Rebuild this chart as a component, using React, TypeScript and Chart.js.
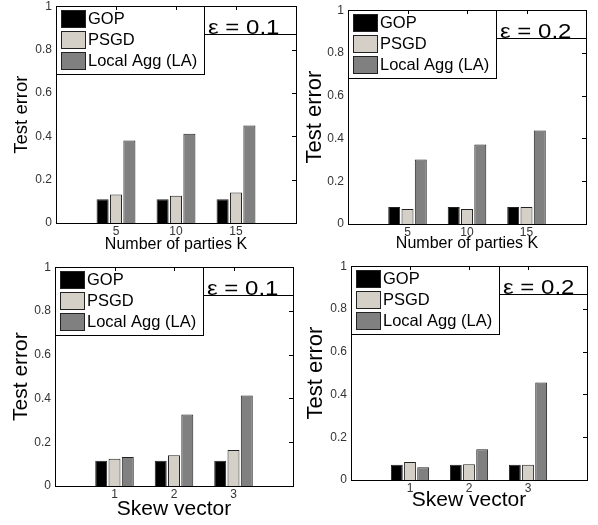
import React, { useEffect, useRef } from 'react';
import { Chart, registerables } from 'chart.js';

Chart.register(...registerables);

// ---------- data ----------
const seriesNames = ['GOP', 'PSGD', 'Local Agg (LA)'];
const seriesColors = ['#000000', '#d4d0c8', '#808080'];
const partiesLabels = ['5', '10', '15'];
const skewLabels = ['1', '2', '3'];
const yTickValues = [0, 0.2, 0.4, 0.6, 0.8, 1];

// Number of parties K, eps = 0.1
const gopK1 = [0.11, 0.11, 0.11];
const psgdK1 = [0.132, 0.126, 0.141];
const laK1 = [0.381, 0.412, 0.45];
// Number of parties K, eps = 0.2
const gopK2 = [0.079, 0.079, 0.079];
const psgdK2 = [0.07, 0.07, 0.08];
const laK2 = [0.302, 0.372, 0.437];
// Skew vector, eps = 0.1
const gopS1 = [0.115, 0.115, 0.115];
const psgdS1 = [0.124, 0.141, 0.164];
const laS1 = [0.133, 0.327, 0.414];
// Skew vector, eps = 0.2
const gopS2 = [0.071, 0.071, 0.071];
const psgdS2 = [0.084, 0.074, 0.071];
const laS2 = [0.06, 0.144, 0.456];

const FONT = '"Liberation Sans", Arial, sans-serif';

type Panel = {
  labels: string[];
  series: number[][];
  eps: string;
  xTitle: string;
  plot: { l: number; t: number; r: number; b: number };
  yw: number;
  xh: number;
  yTitleSize: number;
  yTitlePad: number;
  xTitleSize: number;
  xTitlePad: number;
};

const panels: Panel[] = [
  {
    labels: partiesLabels, series: [gopK1, psgdK1, laK1], eps: 'ε = 0.1', xTitle: 'Number of parties K',
    plot: { l: 56, t: 5, r: 296, b: 223 }, yw: 56, xh: 40,
    yTitleSize: 18.5, yTitlePad: 10.5, xTitleSize: 16, xTitlePad: 8.4,
  },
  {
    labels: partiesLabels, series: [gopK2, psgdK2, laK2], eps: 'ε = 0.2', xTitle: 'Number of parties K',
    plot: { l: 348, t: 9, r: 586, b: 224 }, yw: 56, xh: 40,
    yTitleSize: 22, yTitlePad: 10, xTitleSize: 16, xTitlePad: 11,
  },
  {
    labels: skewLabels, series: [gopS1, psgdS1, laS1], eps: 'ε = 0.1', xTitle: 'Skew vector',
    plot: { l: 55, t: 266, r: 293, b: 486 }, yw: 55, xh: 38,
    yTitleSize: 21, yTitlePad: 9, xTitleSize: 21, xTitlePad: 2.4,
  },
  {
    labels: skewLabels, series: [gopS2, psgdS2, laS2], eps: 'ε = 0.2', xTitle: 'Skew vector',
    plot: { l: 351, t: 265, r: 587, b: 480 }, yw: 56, xh: 38,
    yTitleSize: 22, yTitlePad: 7.3, xTitleSize: 21, xTitlePad: 5,
  },
];

const TOP_PAD = 10;
const RIGHT_PAD = 8;

const framePlugin = {
  id: 'frame',
  afterDraw(chart: any, _args: any, opts: any) {
    const { ctx, chartArea: ca, scales } = chart;
    const l = Math.round(ca.left);
    const t = Math.round(ca.top);
    const r = Math.round(ca.right);
    const b = Math.round(ca.bottom);
    ctx.save();
    ctx.lineWidth = 1;
    ctx.strokeStyle = '#000';
    // frame
    ctx.strokeRect(l + 0.5, t + 0.5, r - l, b - t);
    // right-side inward y ticks
    yTickValues.forEach((v) => {
      if (v === 0 || v === 1) return;
      const y = Math.round(scales.y.getPixelForValue(v)) + 0.5;
      ctx.beginPath();
      ctx.moveTo(r, y);
      ctx.lineTo(r - 4, y);
      ctx.stroke();
    });
    // legend box
    const lw = 148;
    const lh = 68;
    ctx.fillStyle = '#fff';
    ctx.fillRect(l + 0.5, t + 0.5, lw, lh);
    ctx.strokeRect(l + 0.5, t + 0.5, lw, lh);
    chart.data.datasets.forEach((ds: any, i: number) => {
      const sy = t + 4 + i * 21;
      ctx.fillStyle = ds.backgroundColor;
      ctx.fillRect(l + 5.5, sy + 0.5, 24, 17);
      ctx.strokeStyle = '#222';
      ctx.strokeRect(l + 5.5, sy + 0.5, 24, 17);
      ctx.fillStyle = '#000';
      ctx.font = `16.5px ${FONT}`;
      ctx.textBaseline = 'middle';
      ctx.textAlign = 'left';
      ctx.fillText(ds.label, l + 32, sy + 9.5);
    });
    // epsilon box
    ctx.strokeStyle = '#000';
    const ex = l + lw;
    const eh = 28;
    ctx.fillStyle = '#fff';
    ctx.fillRect(ex + 0.5, t + 0.5, r - ex, eh);
    ctx.strokeRect(ex + 0.5, t + 0.5, r - ex, eh);
    ctx.fillStyle = '#000';
    ctx.font = `20px ${FONT}`;
    ctx.textBaseline = 'alphabetic';
    ctx.translate(ex + 4, t + eh - 0.5);
    ctx.scale(1.2, 1);
    ctx.fillText(opts.eps, 0, 0);
    ctx.setTransform(1, 0, 0, 1, 0, 0);
    // top inward x ticks
    ctx.strokeStyle = '#000';
    for (let i = 1; i <= 3; i++) {
      const x = Math.round(scales.x.getPixelForValue(i)) + 0.5;
      ctx.beginPath();
      ctx.moveTo(x, t);
      ctx.lineTo(x, t + 4);
      ctx.stroke();
    }
    ctx.restore();
  },
};

function PanelChart({ p }: { p: Panel }) {
  const ref = useRef<HTMLCanvasElement | null>(null);
  const left = p.plot.l - p.yw;
  const top = p.plot.t - TOP_PAD;
  const width = p.yw + (p.plot.r - p.plot.l) + RIGHT_PAD;
  const height = TOP_PAD + (p.plot.b - p.plot.t) + p.xh;

  useEffect(() => {
    if (!ref.current) return;
    const labels = ['', ...p.labels, ''];
    const chart = new Chart(ref.current, {
      type: 'bar',
      data: {
        labels,
        datasets: p.series.map((vals, i) => ({
          label: seriesNames[i],
          data: [null, ...vals, null],
          backgroundColor: seriesColors[i],
          borderColor: '#222',
          borderWidth: 1,
          categoryPercentage: 0.67,
          barPercentage: 0.9,
        })),
      },
      options: {
        responsive: false,
        animation: false,
        devicePixelRatio: 1,
        layout: { padding: { top: TOP_PAD, right: RIGHT_PAD, left: 0, bottom: 0 } },
        plugins: {
          legend: { display: false },
          tooltip: { enabled: false },
          frame: { eps: p.eps },
        } as any,
        scales: {
          x: {
            type: 'category',
            offset: false,
            grid: { display: false, drawTicks: false },
            border: { display: false },
            ticks: {
              autoSkip: false,
              maxRotation: 0,
              minRotation: 0,
              padding: 1,
              color: '#333',
              font: { family: FONT, size: 12 },
            },
            title: {
              display: true,
              text: p.xTitle,
              color: '#000',
              font: { family: FONT, size: p.xTitleSize },
              padding: { top: 0, bottom: p.xTitlePad },
            },
            afterFit: (s: any) => {
              s.height = p.xh;
            },
          },
          y: {
            min: 0,
            max: 1,
            grid: { display: false, drawTicks: false },
            border: { display: false },
            ticks: {
              stepSize: 0.2,
              padding: 4,
              color: '#333',
              font: { family: FONT, size: 12 },
              callback: (v: any) => String(Number(Number(v).toFixed(2))),
            },
            title: {
              display: true,
              text: 'Test error',
              color: '#000',
              font: { family: FONT, size: p.yTitleSize },
              padding: { top: p.yTitlePad, bottom: 0 },
            },
            afterFit: (s: any) => {
              s.width = p.yw;
            },
          },
        },
      },
      plugins: [framePlugin],
    } as any);
    return () => chart.destroy();
  }, [p]);

  return (
    <canvas
      ref={ref}
      width={width}
      height={height}
      style={{ position: 'absolute', left, top, width, height }}
    />
  );
}

export default function App() {
  return (
    <div style={{ position: 'absolute', left: 0, top: 0, width: 598, height: 525, background: '#fff', overflow: 'hidden' }}>
      {panels.map((p, i) => (
        <PanelChart key={i} p={p} />
      ))}
    </div>
  );
}
